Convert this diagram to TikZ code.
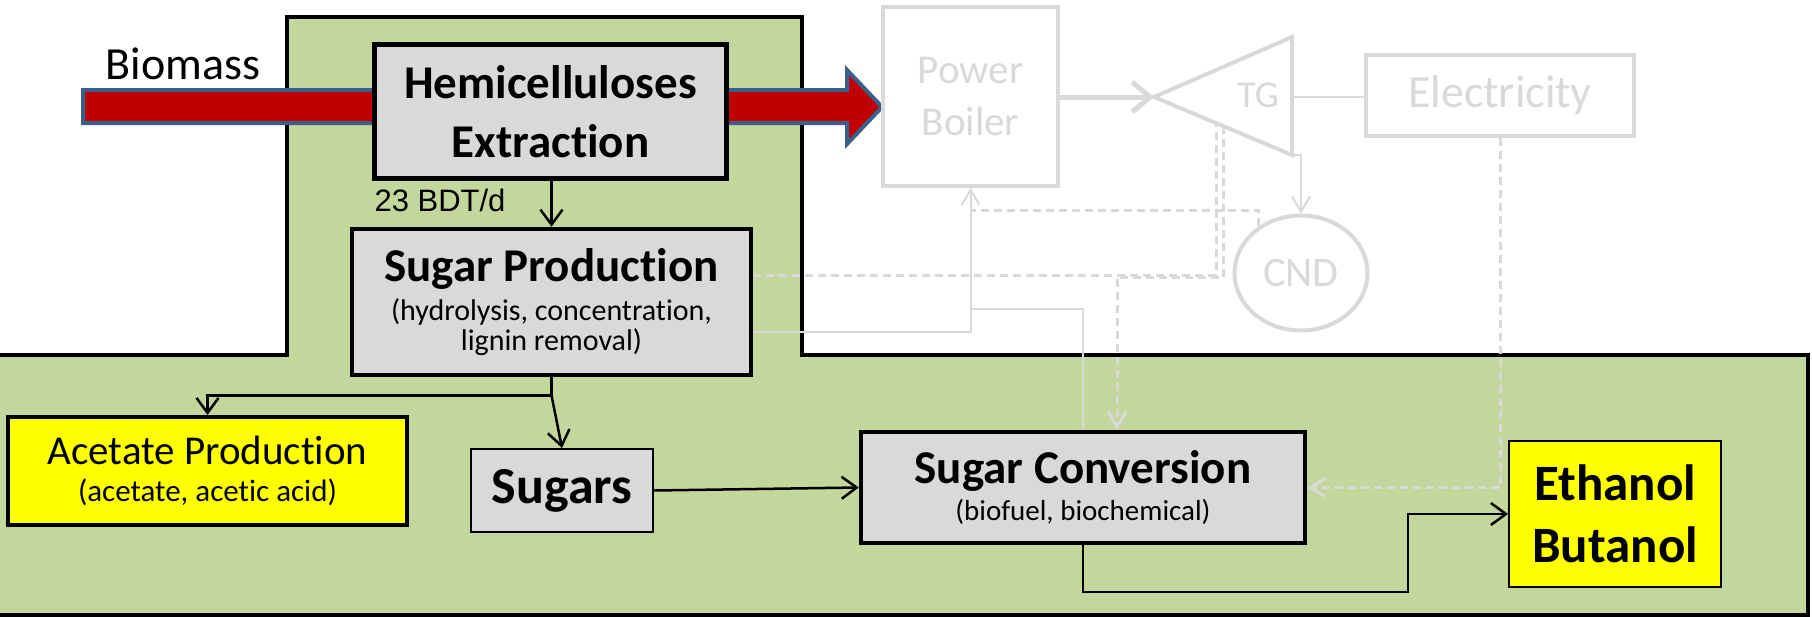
\documentclass[tikz,border=0pt]{standalone}
\usepackage{fontspec}
\setmainfont{Carlito}[Ligatures=NoCommon]
\newfontfamily\arialfont{Liberation Sans}
\usetikzlibrary{calc}
\usetikzlibrary{arrows.meta}
\usetikzlibrary{shapes.geometric}

\definecolor{leaf}{HTML}{C3D69B}
\definecolor{boxgray}{HTML}{D9D9D9}
\definecolor{faded}{HTML}{D9D9D9}
\definecolor{biored}{HTML}{C00000}
\definecolor{bioblue}{HTML}{3A5F8B}
\definecolor{hilite}{HTML}{FFFF00}

\begin{document}
\begin{tikzpicture}[x=1pt, y=-1pt,
    procbox/.style={draw=black, line width=4.5pt, fill=boxgray, align=center, inner sep=0pt},
    prodbox/.style={draw=black, line width=2pt, fill=hilite, align=center, inner sep=0pt},
    fadedbox/.style={draw=faded, line width=4pt, fill=white, text=faded, align=center, inner sep=0pt},
    flow/.style={black, line width=2.5pt, -{Straight Barb[length=15pt,width=22pt]}},
    fline/.style={faded, line width=2pt},
    fdash/.style={faded, line width=3pt, dash pattern=on 8pt off 5pt},
    ftip/.style={-{Straight Barb[length=15pt,width=18pt]}}
]
    \useasboundingbox (0,0) rectangle (1812,616);

    % green areas
    \fill[leaf] (0,355) -- (287,355) -- (287,17) -- (802,17) -- (802,355) -- (1808,355) -- (1808,615) -- (0,615) -- cycle;
    \draw[line width=4pt] (0,355) -- (287,355) -- (287,17) -- (802,17) -- (802,355) -- (1808,355) -- (1808,615) -- (0,615);

    % biomass arrow
    \draw[fill=biored, draw=bioblue, line width=4pt, line join=miter]
        (83,90) -- (847,90) -- (847,70) -- (882,107) -- (847,144) -- (847,123) -- (83,123) -- cycle;
    \node[font=\fontsize{46}{46}\selectfont] (biomass) at (183,64) {Biomass};

    % process boxes
    \node[procbox, minimum width=352, minimum height=134, font=\fontsize{47}{59}\selectfont\bfseries] (hemi) at (550.5,111.5) {Hemicelluloses\\Extraction};
    \node[procbox, minimum width=399, minimum height=146, font=\fontsize{30}{30}\selectfont] (sugprod) at (551.5,302)
        {{\fontsize{47}{47}\selectfont\bfseries Sugar Production}\\[9pt](hydrolysis, concentration,\\lignin removal)};
    \node[procbox, line width=4pt, fill=hilite, minimum width=399, minimum height=108, font=\fontsize{31}{31}\selectfont] (acetate) at (207.5,471)
        {{\fontsize{41}{41}\selectfont Acetate Production}\\[6pt](acetate, acetic acid)};
    \node[procbox, line width=2pt, minimum width=182, minimum height=83, font=\fontsize{52}{52}\selectfont\bfseries] (sugars) at (562,490.5) {Sugars};
    \node[procbox, minimum width=444, minimum height=111, font=\fontsize{29}{29}\selectfont] (sugconv) at (1083,487.5)
        {{\fontsize{47}{47}\selectfont\bfseries Sugar Conversion}\\[7pt](biofuel, biochemical)};
    \node[prodbox, minimum width=212, minimum height=146, font=\fontsize{51}{62}\selectfont\bfseries] (ethbut) at (1615,514) {Ethanol\\Butanol};

    \node[font=\arialfont\fontsize{31}{31}\selectfont] (rate) at (440,200) {23 BDT/d};

    % power side (faded)
    \node[fadedbox, minimum width=175, minimum height=179, font=\fontsize{41}{52}\selectfont] (boiler) at (970.5,96.5) {Power\\Boiler};
    \node[fadedbox, minimum width=268, minimum height=81, font=\fontsize{46}{46}\selectfont] (elec) at (1500,95.5) {Electricity};
    \node[ellipse, draw=faded, line width=4pt, fill=white, text=faded, minimum width=133, minimum height=115, inner sep=0pt,
        font=\fontsize{42}{42}\selectfont] (cnd) at (1301,273) {CND};
    \coordinate (tgin) at (1154,97);
    \coordinate (tgtop) at (1292,37);
    \coordinate (tgbot) at (1292,155);
    \draw[faded, line width=4pt, line join=miter] (tgin) -- (tgtop) -- (tgbot) -- cycle;
    \node[text=faded, font=\fontsize{38}{38}\selectfont] (tg) at (1258,95) {TG};
    \coordinate (tgout) at (1292,97);
    \coordinate (ext1) at ($(tgin)!0.45!(tgbot)$);
    \coordinate (ext2) at ($(tgin)!0.507!(tgbot)$);

    \draw[faded, line width=5pt, -{Straight Barb[length=18pt,width=30pt]}] (boiler.east |- tgin) -- (tgin);
    \draw[fline] (tgout) -- (elec.west |- tgout);
    \draw[fline, ftip] (tgbot) -| (cnd.north);
    \draw[fline, ftip] ([yshift=-30pt]sugprod.east) -| (boiler.south);
    \draw[fline] (boiler.south |- 0,309) -| (sugconv.north);
    \draw[fdash] (cnd.132) |- (boiler.south |- 0,210);
    \draw[fdash] ([yshift=27pt]sugprod.east) -| (ext1);
    \draw[fdash, ftip] (ext2) -- ++(0,151) -| ([xshift=34pt]sugconv.north);
    \draw[fdash, ftip] (elec.south) |- (sugconv.east);

    % main flows
    \draw[flow] (hemi.south -| sugprod.north) -- (sugprod.north);
    \coordinate (split) at ($(sugprod.south)+(0,18)$);
    \draw[line width=2.5pt] (sugprod.south) -- (split);
    \draw[flow] (split) -| (acetate.north);
    \draw[flow] (split) -- (sugars.north);
    \draw[flow] (sugars.east) -- (sugconv.west);
    \draw[flow] (sugconv.south) |- (1408,592) |- (ethbut.west);
\end{tikzpicture}
\end{document}
